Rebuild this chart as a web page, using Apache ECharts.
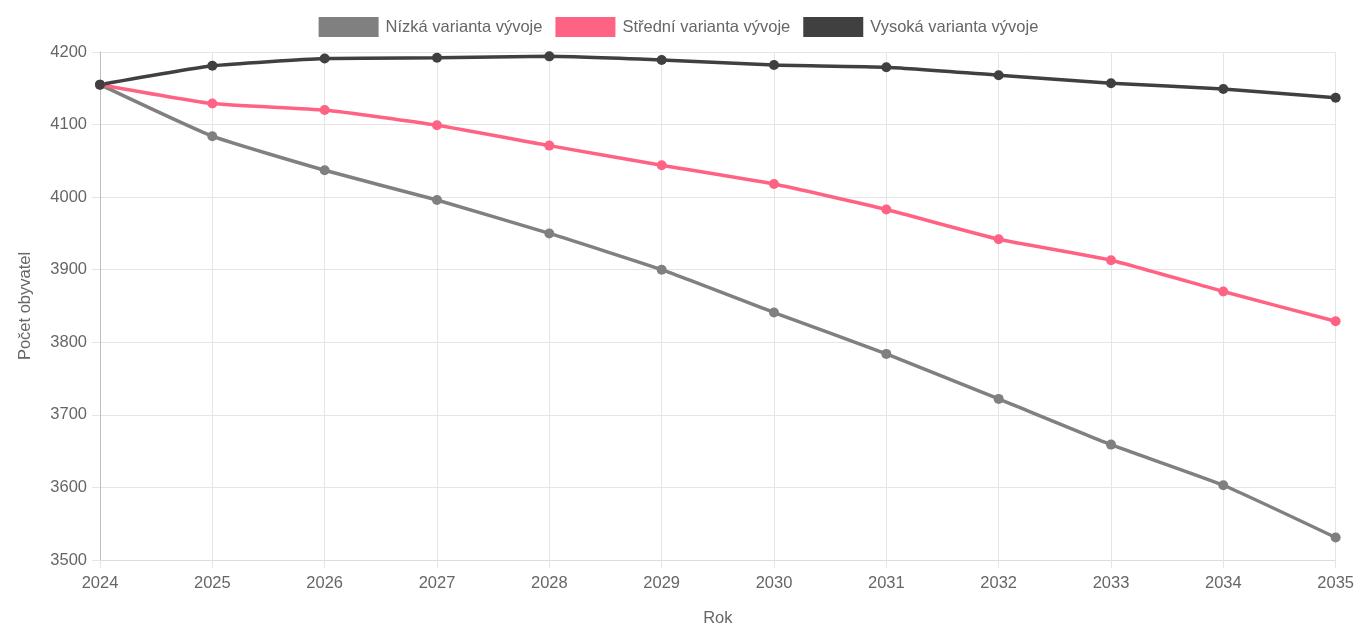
<!DOCTYPE html>
<html>
<head>
<meta charset="utf-8">
<script src="https://cdn.jsdelivr.net/npm/echarts@6/dist/echarts.min.js"></script>
<style>
html,body{margin:0;padding:0;background:#fff;overflow:hidden;}
#chart{width:1357px;height:632px;}
</style>
</head>
<body>
<div id="chart"></div>
<script>
const years = ['2024','2025','2026','2027','2028','2029','2030','2031','2032','2033','2034','2035'];
const lowVariant = [4155, 4084, 4037, 3996, 3950, 3900, 3841, 3784, 3722, 3659, 3603, 3531];
const midVariant = [4155, 4129, 4120, 4099, 4071, 4044, 4018, 3983, 3942, 3913, 3870, 3829];
const highVariant = [4155, 4181, 4191, 4192, 4194, 4189, 4182, 4179, 4168, 4157, 4149, 4137];
const seriesNames = ['Nízká varianta vývoje', 'Střední varianta vývoje', 'Vysoká varianta vývoje'];
const colors = ['#808080', '#ff6384', '#404040'];

const font = '"Liberation Sans", Arial, sans-serif';
const fs = 16.5;
const chart = echarts.init(document.getElementById('chart'), null, {renderer: 'canvas'});

function mk(name, data, color) {
  return {
    name: name,
    type: 'line',
    data: data,
    smooth: 0.15,
    symbol: 'circle',
    symbolSize: 10,
    showSymbol: true,
    lineStyle: {width: 3.5, color: color},
    itemStyle: {color: color},
    emphasis: {disabled: true},
    animation: false
  };
}

chart.setOption({
  animation: false,
  color: colors,
  textStyle: {fontFamily: font},
  legend: {
    top: 12,
    left: 'center',
    itemWidth: 60,
    itemHeight: 20,
    itemGap: 13,
    icon: 'rect',
    textStyle: {color: '#666', fontSize: fs, fontFamily: font, padding: [0, 0, 0, 2]},
    data: seriesNames
  },
  grid: {left: 100, right: 16, top: 52, bottom: 68, containLabel: false},
  xAxis: {
    type: 'category',
    data: years,
    boundaryGap: false,
    name: 'Rok',
    nameLocation: 'middle',
    nameGap: 50,
    nameTextStyle: {color: '#666', fontSize: fs, fontFamily: font},
    axisLine: {show: true, lineStyle: {color: '#dcdcdc', width: 1}},
    axisTick: {show: true, length: 8, lineStyle: {color: '#e5e5e5'}},
    axisLabel: {color: '#666', fontSize: fs, margin: 15, fontFamily: font},
    splitLine: {show: true, lineStyle: {color: '#e5e5e5', width: 1}}
  },
  yAxis: {
    type: 'value',
    min: 3500,
    max: 4200,
    interval: 100,
    name: 'Počet obyvatel',
    nameLocation: 'middle',
    nameGap: 66,
    nameTextStyle: {color: '#666', fontSize: fs, fontFamily: font},
    axisLine: {show: true, lineStyle: {color: '#bdbdbd', width: 1}},
    axisTick: {show: true, length: 8, lineStyle: {color: '#e5e5e5'}},
    axisLabel: {color: '#666', fontSize: fs, margin: 13, fontFamily: font, formatter: function (v) { return String(v); }},
    splitLine: {show: true, lineStyle: {color: '#e5e5e5', width: 1}}
  },
  series: [
    mk(seriesNames[0], lowVariant, colors[0]),
    mk(seriesNames[1], midVariant, colors[1]),
    mk(seriesNames[2], highVariant, colors[2])
  ]
});
</script>
</body>
</html>
